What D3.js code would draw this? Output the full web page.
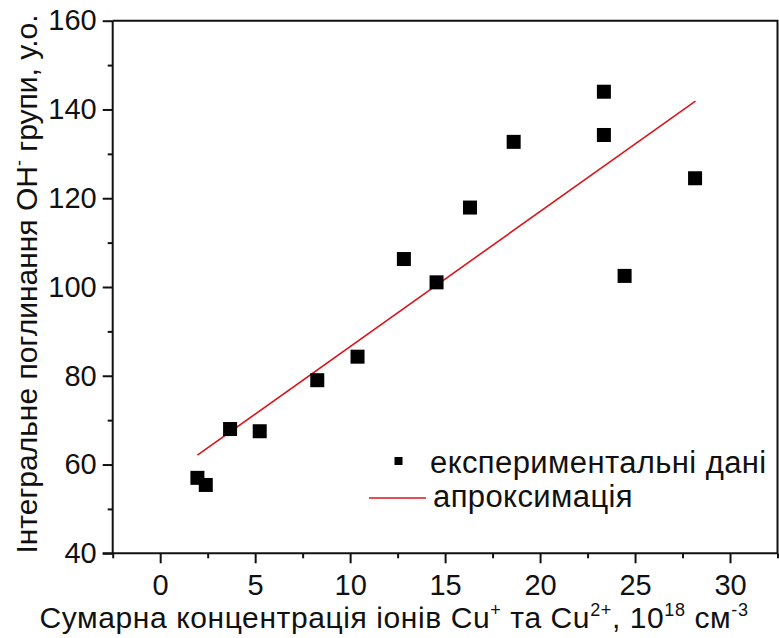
<!DOCTYPE html>
<html>
<head>
<meta charset="utf-8">
<script src="https://cdn.jsdelivr.net/npm/d3@7"></script>
<style>
  body { margin: 0; background: #fff; }
  svg text { font-family: "Liberation Sans", Arial, sans-serif; fill: #111; }
</style>
</head>
<body>
<div id="chart"></div>
<script>
// measured points (concentration, 10^18 cm^-3 ; absorbance, a.u.)
var expX = [1.96, 2.40, 3.68, 5.24, 8.27, 10.39, 12.83, 14.55, 16.31, 18.61, 23.36, 23.36, 24.45, 28.16];
var expY = [57.0, 55.4, 68.0, 67.5, 79.0, 84.3, 106.3, 101.05, 117.9, 132.7, 144.0, 134.25, 102.5, 124.5];

// linear approximation, end points
var fitX = [1.96, 28.18];
var fitY = [62.1, 141.9];

var xTicks = [0, 5, 10, 15, 20, 25, 30];
var xMinor = [-2.5, 2.5, 7.5, 12.5, 17.5, 22.5, 27.5, 32.5];
var yTicks = [40, 60, 80, 100, 120, 140, 160];
var yMinor = [50, 70, 90, 110, 130, 150];

var legendNames = ['експериментальні дані', 'апроксимація'];

var W = 779, H = 638;
var pl = 112.7, pr = 777.5, pt = 20.7, pb = 553.3;
var font = '"Liberation Sans", Arial, sans-serif';

var svg = d3.select('#chart').append('svg').attr('width', W).attr('height', H);

var x = d3.scaleLinear().domain([-2.5, 32.5]).range([pl, pr]);
var y = d3.scaleLinear().domain([40, 160]).range([pb, pt]);

// frame (top + right)
svg.append('path')
  .attr('d', 'M' + pl + ',' + pt + 'H' + pr + 'V' + pb)
  .attr('fill', 'none').attr('stroke', '#111').attr('stroke-width', 2);

function styleMinor(g) {
  g.select('.domain').remove();
  g.selectAll('line').attr('stroke-width', 2).attr('stroke', '#111');
}

// minor ticks
svg.append('g').attr('transform', 'translate(0,' + pb + ')')
  .call(d3.axisBottom(x).tickValues(xMinor).tickSize(5).tickFormat(''))
  .call(styleMinor);
svg.append('g').attr('transform', 'translate(' + pl + ',0)')
  .call(d3.axisLeft(y).tickValues(yMinor).tickSize(5).tickFormat(''))
  .call(styleMinor);

// major axes
var xAxis = svg.append('g').attr('transform', 'translate(0,' + pb + ')')
  .call(d3.axisBottom(x).tickValues(xTicks).tickSize(10).tickSizeOuter(0).tickPadding(10));
var yAxis = svg.append('g').attr('transform', 'translate(' + pl + ',0)')
  .call(d3.axisLeft(y).tickValues(yTicks).tickSize(10).tickSizeOuter(0).tickPadding(6));

[xAxis, yAxis].forEach(function (g) {
  g.select('.domain').attr('stroke', '#111').attr('stroke-width', 2);
  g.selectAll('line').attr('stroke', '#111').attr('stroke-width', 2);
  g.selectAll('text').attr('font-size', 29).attr('font-family', font).attr('fill', '#111');
});
xAxis.selectAll('text').attr('dy', '0.75em');
xAxis.select('.domain').attr('d', 'M' + (pl - 10) + ',0H' + pr);
yAxis.select('.domain').attr('d', 'M0,' + pt + 'V' + pb);

// fit line
svg.append('line')
  .attr('x1', x(fitX[0])).attr('y1', y(fitY[0]))
  .attr('x2', x(fitX[1])).attr('y2', y(fitY[1]))
  .attr('stroke', '#d9161c').attr('stroke-width', 1.6);

// points
var sq = 14;
svg.append('g').selectAll('rect')
  .data(expX.map(function (v, i) { return [v, expY[i]]; }))
  .join('rect')
  .attr('x', function (d) { return x(d[0]) - sq / 2; })
  .attr('y', function (d) { return y(d[1]) - sq / 2; })
  .attr('width', sq).attr('height', sq)
  .attr('fill', '#000');

// legend
var lg = svg.append('g');
lg.append('rect').attr('x', 394.5).attr('y', 457).attr('width', 8).attr('height', 8).attr('fill', '#000');
lg.append('text').attr('x', 430).attr('y', 473).attr('font-size', 31).attr('letter-spacing', 0.4).text(legendNames[0]);
lg.append('line').attr('x1', 369).attr('x2', 426).attr('y1', 498).attr('y2', 498)
  .attr('stroke', '#d9161c').attr('stroke-width', 1.6);
lg.append('text').attr('x', 433).attr('y', 507).attr('font-size', 31).attr('letter-spacing', 0.4).text(legendNames[1]);

// x title
var xt = svg.append('text').attr('x', 394).attr('y', 628).attr('text-anchor', 'middle')
  .attr('font-size', 30).attr('letter-spacing', 0.6);
xt.append('tspan').text('Сумарна концентрація іонів Cu');
xt.append('tspan').attr('dy', -12).attr('font-size', 18).text('+');
xt.append('tspan').attr('dy', 12).text(' та Cu');
xt.append('tspan').attr('dy', -12).attr('font-size', 18).text('2+');
xt.append('tspan').attr('dy', 12).text(', 10');
xt.append('tspan').attr('dy', -12).attr('font-size', 18).text('18');
xt.append('tspan').attr('dy', 12).text(' см');
xt.append('tspan').attr('dy', -12).attr('font-size', 18).text('-3');

// y title
var yt = svg.append('text').attr('transform', 'translate(37,' + ((pt + pb) / 2 - 3) + ') rotate(-90)')
  .attr('text-anchor', 'middle').attr('font-size', 30);
yt.append('tspan').text('Інтегральне поглинання ОН');
yt.append('tspan').attr('dy', -12).attr('font-size', 18).text('-');
yt.append('tspan').attr('dy', 12).text(' групи, у.о.');
</script>
</body>
</html>
